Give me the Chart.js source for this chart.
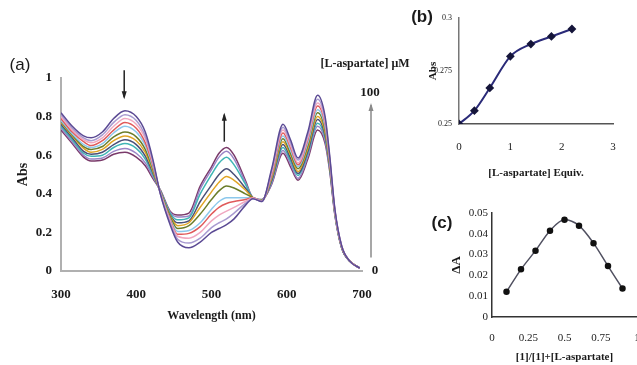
<!DOCTYPE html>
<html>
<head>
<meta charset="utf-8">
<script src="https://cdn.jsdelivr.net/npm/chart.js@4.4.0/dist/chart.umd.min.js"></script>
<style>
  html, body { margin: 0; padding: 0; background: #fff; }
  #wrap { position: relative; width: 637px; height: 365px; overflow: hidden; background: #fff; }
  canvas { position: absolute; }
  .lbl { position: absolute; transform: translate(-50%, -50%); white-space: nowrap; color: #1a1a1a; }
  .panel { font-family: 'Liberation Sans', Arial, sans-serif; font-size: 17px; }
  .serif { font-family: 'Liberation Serif', 'Times New Roman', serif; font-weight: bold; }
</style>
</head>
<body>
<div id="wrap">
  <canvas id="spectraChart" width="400" height="365" style="left:0;top:0"></canvas>
  <canvas id="titrationChart" width="237" height="190" style="left:400px;top:0"></canvas>
  <!-- wider than the window on purpose: the "1" tick label gets cut at the edge like the original -->
  <canvas id="jobChart" width="262" height="175" style="left:400px;top:190px"></canvas>

  <div class="lbl panel" style="left:20px;top:65px">(a)</div>
  <div class="lbl panel" style="left:422px;top:17px;font-weight:bold">(b)</div>
  <div class="lbl panel" style="left:442px;top:223px;font-weight:bold">(c)</div>
  <div class="lbl serif" style="left:365px;top:63px;font-size:12px">[L-aspartate] μM</div>
  <div class="lbl serif" style="left:370px;top:92px;font-size:13px">100</div>
  <div class="lbl serif" style="left:375px;top:270px;font-size:13px">0</div>
</div>

<script>
// (a) UV-vis spectra, absorbance vs wavelength, one array per L-aspartate concentration
const wavelengths = [300, 315, 330, 340, 355, 370, 385, 400, 412, 422, 432, 445, 455, 470, 485, 500, 510, 520, 530, 545, 555, 567, 580, 595, 605, 615, 628, 641, 651, 657, 664, 673, 684, 697];

const abs0uM = [0.82, 0.75, 0.70, 0.69, 0.72, 0.79, 0.83, 0.80, 0.72, 0.58, 0.40, 0.24, 0.15, 0.12, 0.15, 0.20, 0.22, 0.24, 0.27, 0.34, 0.375, 0.36, 0.53, 0.76, 0.68, 0.585, 0.72, 0.91, 0.80, 0.60, 0.32, 0.13, 0.05, 0.015];
const abs10uM = [0.81, 0.74, 0.69, 0.675, 0.705, 0.77, 0.81, 0.78, 0.70, 0.57, 0.40, 0.25, 0.165, 0.145, 0.17, 0.225, 0.25, 0.27, 0.30, 0.35, 0.375, 0.36, 0.52, 0.745, 0.665, 0.575, 0.705, 0.89, 0.785, 0.59, 0.315, 0.13, 0.05, 0.015];
const abs20uM = [0.80, 0.73, 0.68, 0.665, 0.69, 0.75, 0.79, 0.76, 0.685, 0.56, 0.405, 0.26, 0.18, 0.17, 0.20, 0.26, 0.29, 0.31, 0.33, 0.36, 0.378, 0.362, 0.51, 0.73, 0.65, 0.56, 0.69, 0.87, 0.77, 0.585, 0.31, 0.13, 0.05, 0.015];
const abs30uM = [0.79, 0.72, 0.67, 0.65, 0.675, 0.73, 0.77, 0.74, 0.665, 0.55, 0.405, 0.265, 0.19, 0.195, 0.23, 0.295, 0.33, 0.35, 0.36, 0.37, 0.38, 0.363, 0.50, 0.715, 0.64, 0.55, 0.68, 0.855, 0.76, 0.575, 0.31, 0.125, 0.05, 0.015];
const abs40uM = [0.78, 0.71, 0.655, 0.64, 0.66, 0.715, 0.75, 0.72, 0.65, 0.54, 0.41, 0.27, 0.205, 0.21, 0.25, 0.32, 0.36, 0.38, 0.38, 0.38, 0.38, 0.364, 0.495, 0.70, 0.625, 0.54, 0.665, 0.835, 0.745, 0.57, 0.305, 0.125, 0.05, 0.015];
const abs50uM = [0.775, 0.705, 0.645, 0.63, 0.645, 0.695, 0.72, 0.695, 0.63, 0.53, 0.41, 0.28, 0.22, 0.235, 0.295, 0.37, 0.415, 0.44, 0.43, 0.40, 0.38, 0.365, 0.49, 0.685, 0.61, 0.53, 0.65, 0.82, 0.73, 0.56, 0.305, 0.125, 0.05, 0.015];
const abs60uM = [0.77, 0.70, 0.635, 0.615, 0.63, 0.675, 0.70, 0.675, 0.615, 0.52, 0.41, 0.285, 0.235, 0.25, 0.33, 0.41, 0.46, 0.49, 0.47, 0.42, 0.38, 0.366, 0.48, 0.67, 0.60, 0.515, 0.635, 0.80, 0.715, 0.555, 0.30, 0.125, 0.05, 0.015];
const abs70uM = [0.76, 0.69, 0.62, 0.605, 0.615, 0.655, 0.68, 0.655, 0.595, 0.51, 0.41, 0.29, 0.25, 0.26, 0.36, 0.445, 0.50, 0.53, 0.50, 0.43, 0.38, 0.367, 0.47, 0.655, 0.585, 0.505, 0.62, 0.785, 0.70, 0.545, 0.30, 0.12, 0.05, 0.015];
const abs80uM = [0.75, 0.68, 0.61, 0.595, 0.60, 0.64, 0.66, 0.635, 0.58, 0.50, 0.415, 0.30, 0.265, 0.275, 0.40, 0.50, 0.56, 0.59, 0.55, 0.45, 0.38, 0.368, 0.465, 0.64, 0.57, 0.495, 0.61, 0.765, 0.69, 0.54, 0.295, 0.12, 0.05, 0.015];
const abs90uM = [0.74, 0.67, 0.60, 0.58, 0.585, 0.62, 0.635, 0.61, 0.56, 0.49, 0.415, 0.305, 0.28, 0.285, 0.425, 0.525, 0.59, 0.62, 0.58, 0.46, 0.38, 0.369, 0.455, 0.625, 0.555, 0.48, 0.595, 0.75, 0.675, 0.53, 0.29, 0.12, 0.05, 0.015];
const abs100uM = [0.73, 0.66, 0.59, 0.57, 0.575, 0.605, 0.615, 0.59, 0.545, 0.48, 0.42, 0.31, 0.29, 0.30, 0.44, 0.54, 0.61, 0.64, 0.60, 0.47, 0.38, 0.37, 0.45, 0.61, 0.54, 0.47, 0.58, 0.73, 0.66, 0.52, 0.29, 0.12, 0.05, 0.015];

const concLabels = ['0', '10', '20', '30', '40', '50', '60', '70', '80', '90', '100'];
const spectra = [abs0uM, abs10uM, abs20uM, abs30uM, abs40uM, abs50uM, abs60uM, abs70uM, abs80uM, abs90uM, abs100uM];

// (b) titration curve
const equivValues = [0, 0.3, 0.6, 1.0, 1.4, 1.8, 2.2];
const titrationAbs = [0.25, 0.2563, 0.2670, 0.2819, 0.2877, 0.2913, 0.2948];

// (c) Job's plot
const moleFraction = [0.1, 0.2, 0.3, 0.4, 0.5, 0.6, 0.7, 0.8, 0.9];
const deltaA = [0.0121, 0.0229, 0.0319, 0.0415, 0.0467, 0.0439, 0.0355, 0.0245, 0.0137];

const lineColors = ['#5b4a94', '#a89ad0', '#f0a8c0', '#e05a5a', '#8cc8ec', '#6b7d2a', '#e0a526', '#4a4f78', '#3fb5b5', '#9a84c6', '#7a3a6a'];

const serif = "'Liberation Serif', 'Times New Roman', serif";

function toPoints(xs, ys) {
  return xs.map((x, i) => ({ x: x, y: ys[i] }));
}

function cleanNum(v, digits) {
  return String(Number(v.toFixed(digits)));
}

// arrows on the spectra panel
const arrowPlugin = {
  id: 'arrows',
  afterDraw(chart) {
    const ctx = chart.ctx;
    const xs = chart.scales.x;
    const ys = chart.scales.y;
    const drawArrow = (x, y1, y2, color) => {
      ctx.save();
      ctx.strokeStyle = color;
      ctx.fillStyle = color;
      ctx.lineWidth = 1.5;
      ctx.beginPath();
      ctx.moveTo(x, y1);
      ctx.lineTo(x, y2);
      ctx.stroke();
      const dir = y2 > y1 ? 1 : -1;
      ctx.beginPath();
      ctx.moveTo(x, y2 + dir * 2);
      ctx.lineTo(x - 2.5, y2 - dir * 6);
      ctx.lineTo(x + 2.5, y2 - dir * 6);
      ctx.closePath();
      ctx.fill();
      ctx.restore();
    };
    drawArrow(xs.getPixelForValue(384), ys.getPixelForValue(1.04), ys.getPixelForValue(0.90), '#222');
    drawArrow(xs.getPixelForValue(517), ys.getPixelForValue(0.67), ys.getPixelForValue(0.81), '#222');
    drawArrow(chart.chartArea.right + 9, ys.getPixelForValue(0.07), ys.getPixelForValue(0.86), '#8a8a8a');
  },
};

new Chart(document.getElementById('spectraChart').getContext('2d'), {
  type: 'line',
  data: {
    datasets: spectra.map((vals, i) => ({
      label: concLabels[i] + ' μM',
      data: toPoints(wavelengths, vals),
      borderColor: lineColors[i],
      borderWidth: 1.5,
      pointRadius: 0,
      fill: false,
      cubicInterpolationMode: 'monotone',
    })),
  },
  options: {
    responsive: false,
    animation: false,
    devicePixelRatio: 1,
    layout: { padding: { left: 0, top: 78, right: 38, bottom: 40 } },
    scales: {
      x: {
        type: 'linear',
        min: 300,
        max: 700,
        afterFit: (scale) => { scale.height = 54; },
        ticks: { stepSize: 100, padding: 16, color: '#1a1a1a', font: { family: serif, size: 13, weight: 'bold' } },
        grid: { display: false, drawTicks: false },
        border: { display: true, color: '#b0b0b0', width: 2 },
        title: { display: true, text: 'Wavelength (nm)', color: '#1a1a1a', padding: { top: 0, bottom: 2 }, font: { family: serif, size: 12, weight: 'bold' } },
      },
      y: {
        min: 0,
        max: 1,
        afterFit: (scale) => { scale.width = 61; },
        ticks: { stepSize: 0.2, padding: 9, color: '#1a1a1a', font: { family: serif, size: 13, weight: 'bold' }, callback: (v) => cleanNum(v, 1) },
        grid: { display: false, drawTicks: false },
        border: { display: true, color: '#b0b0b0', width: 2 },
        title: { display: true, text: 'Abs', color: '#1a1a1a', padding: { top: 15, bottom: 0 }, font: { family: serif, size: 14, weight: 'bold' } },
      },
    },
    plugins: { legend: { display: false }, tooltip: { enabled: false } },
  },
  plugins: [arrowPlugin],
});

new Chart(document.getElementById('titrationChart').getContext('2d'), {
  type: 'line',
  data: {
    datasets: [{
      data: toPoints(equivValues, titrationAbs),
      borderColor: '#2a2a78',
      borderWidth: 2,
      pointStyle: 'rectRot',
      pointRadius: 3,
      pointBackgroundColor: '#15153a',
      pointBorderColor: '#15153a',
      cubicInterpolationMode: 'monotone',
    }],
  },
  options: {
    responsive: false,
    animation: false,
    devicePixelRatio: 1,
    layout: { padding: { left: 0, top: 18, right: 24, bottom: 8 } },
    scales: {
      x: {
        type: 'linear',
        min: 0,
        max: 3,
        afterFit: (scale) => { scale.height = 58; },
        ticks: { stepSize: 1, padding: 17, color: '#1a1a1a', font: { family: serif, size: 11 } },
        grid: { display: false, drawTicks: false },
        border: { display: true, color: '#555', width: 1.5 },
        title: { display: true, text: '[L-aspartate] Equiv.', color: '#1a1a1a', padding: { top: 0, bottom: 2.4 }, font: { family: serif, size: 11, weight: 'bold' } },
      },
      y: {
        min: 0.25,
        max: 0.3,
        afterFit: (scale) => { scale.width = 59; },
        ticks: { stepSize: 0.025, padding: 7, color: '#1a1a1a', font: { family: serif, size: 8 }, callback: (v) => cleanNum(v, 3) },
        grid: { display: false, drawTicks: false },
        border: { display: true, color: '#777', width: 1.5 },
        title: { display: true, text: 'Abs', color: '#1a1a1a', padding: { top: 27, bottom: 0 }, font: { family: serif, size: 11, weight: 'bold' } },
      },
    },
    plugins: { legend: { display: false }, tooltip: { enabled: false } },
  },
});

new Chart(document.getElementById('jobChart').getContext('2d'), {
  type: 'line',
  data: {
    datasets: [{
      data: toPoints(moleFraction, deltaA),
      borderColor: '#505060',
      borderWidth: 1.5,
      pointRadius: 2.5,
      pointBackgroundColor: '#111',
      pointBorderColor: '#111',
      cubicInterpolationMode: 'monotone',
    }],
  },
  options: {
    responsive: false,
    animation: false,
    devicePixelRatio: 1,
    layout: { padding: { left: 0, top: 23, right: 25, bottom: 0 } },
    scales: {
      x: {
        type: 'linear',
        min: 0,
        max: 1,
        afterFit: (scale) => { scale.height = 48; },
        ticks: { stepSize: 0.25, padding: 15, color: '#1a1a1a', font: { family: serif, size: 11 }, callback: (v) => cleanNum(v, 2) },
        grid: { display: false, drawTicks: false },
        border: { display: true, color: '#333', width: 1.5 },
        title: { display: true, text: '[1]/[1]+[L-aspartate]', color: '#1a1a1a', padding: { top: 0, bottom: 1.4 }, font: { family: serif, size: 11, weight: 'bold' } },
      },
      y: {
        min: 0,
        max: 0.05,
        afterFit: (scale) => { scale.width = 92; },
        ticks: { stepSize: 0.01, padding: 4, color: '#1a1a1a', font: { family: serif, size: 11 }, callback: (v) => cleanNum(v, 2) },
        grid: { display: false, drawTicks: false },
        border: { display: true, color: '#333', width: 1.5 },
        title: { display: true, text: 'ΔA', color: '#1a1a1a', padding: { top: 49, bottom: 0 }, font: { family: serif, size: 13, weight: 'bold' } },
      },
    },
    plugins: { legend: { display: false }, tooltip: { enabled: false } },
  },
});
</script>
</body>
</html>
